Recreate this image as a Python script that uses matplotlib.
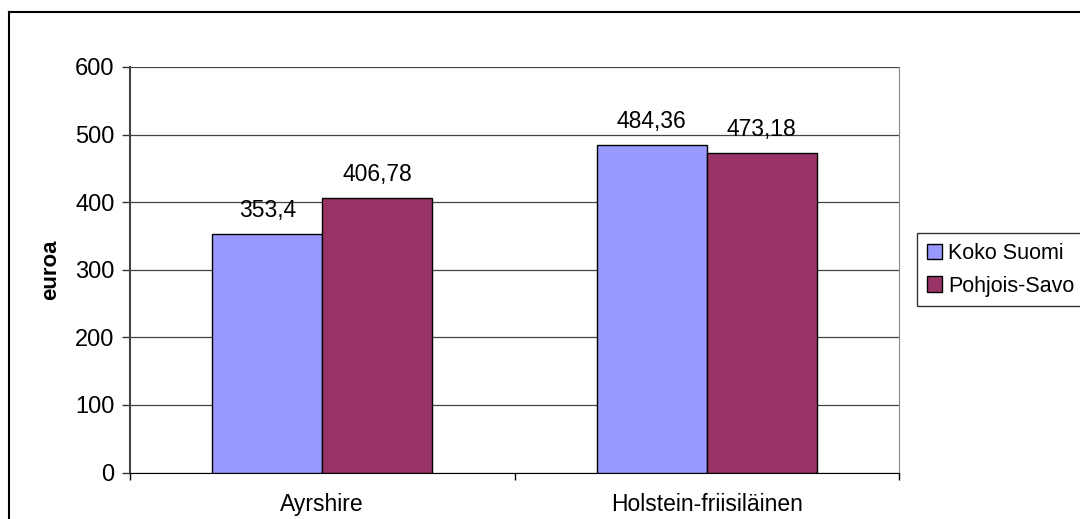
import matplotlib.pyplot as plt
from matplotlib.lines import Line2D
import numpy as np

plt.rcParams['font.family'] = ['Liberation Sans', 'DejaVu Sans']

categories = ['Ayrshire', 'Holstein-friisiläinen']
series_names = ['Koko Suomi', 'Pohjois-Savo']
koko_suomi = [353.4, 484.36]
pohjois_savo = [406.78, 473.18]
labels_koko = ['353,4', '484,36']
labels_savo = ['406,78', '473,18']
y_ticks = [0, 100, 200, 300, 400, 500, 600]

fig = plt.figure(figsize=(10.8, 5.19), dpi=100)
ax = fig.add_axes([130 / 1080, 46.5 / 519, 769 / 1080, 405.5 / 519])

x = np.arange(len(categories))
w = 1 / 3.5
b1 = ax.bar(x - w / 2, koko_suomi, w, color='#9999FF', edgecolor='black', linewidth=1, label=series_names[0], zorder=3)
b2 = ax.bar(x + w / 2, pohjois_savo, w, color='#993366', edgecolor='black', linewidth=1, label=series_names[1], zorder=3)

for bars, labs in [(b1, labels_koko), (b2, labels_savo)]:
    for rect, lab in zip(bars, labs):
        ax.annotate(lab, (rect.get_x() + rect.get_width() / 2, rect.get_height()),
                    xytext=(0, 12.2), textcoords='offset points',
                    ha='center', va='baseline', fontsize=16.5)

ax.set_xlim(-0.5, len(categories) - 0.5)
ax.set_ylim(0, 600)
ax.set_yticks(y_ticks)
ax.yaxis.grid(True, color='#444444', linewidth=0.9)
ax.set_axisbelow(True)

# category boundaries as tick marks, names in between
ax.set_xticks([-0.5, 0.5, 1.5])
ax.set_xticklabels([])
ax.set_xticks(x, minor=True)
ax.set_xticklabels(categories, minor=True, fontsize=16.5)
ax.tick_params(axis='x', which='minor', length=0, pad=15)
ax.tick_params(axis='x', which='major', length=5, width=1, color='black')
ax.tick_params(axis='y', length=6, width=1, pad=5, labelsize=17, color='#333333')

ax.spines['top'].set_visible(False)
ax.spines['right'].set_color('#888888')
ax.spines['left'].set_color('#444444')
ax.spines['left'].set_linewidth(1.5)
ax.spines['bottom'].set_color('black')

ax.set_ylabel('euroa', fontsize=16, fontweight='bold')
ax.yaxis.set_label_coords(-0.09, 0.5)

leg = fig.legend(loc='upper left', bbox_to_anchor=(917 / 1080, 1 - 233 / 519),
                 fontsize=15.5, frameon=True, fancybox=False, shadow=False,
                 handlelength=0.7, handleheight=0.7, handletextpad=0.3,
                 borderpad=0.45, labelspacing=0.55, borderaxespad=0)
leg.get_frame().set_edgecolor('black')
leg.get_frame().set_linewidth(1)

# outer chart frame
fig.add_artist(Line2D([9 / 1080, 9 / 1080], [0, 1 - 12 / 519], transform=fig.transFigure, color='black', linewidth=1.5))
fig.add_artist(Line2D([9 / 1080, 1], [1 - 12 / 519, 1 - 12 / 519], transform=fig.transFigure, color='black', linewidth=1.5))

fig.savefig('out.png', dpi=100)
